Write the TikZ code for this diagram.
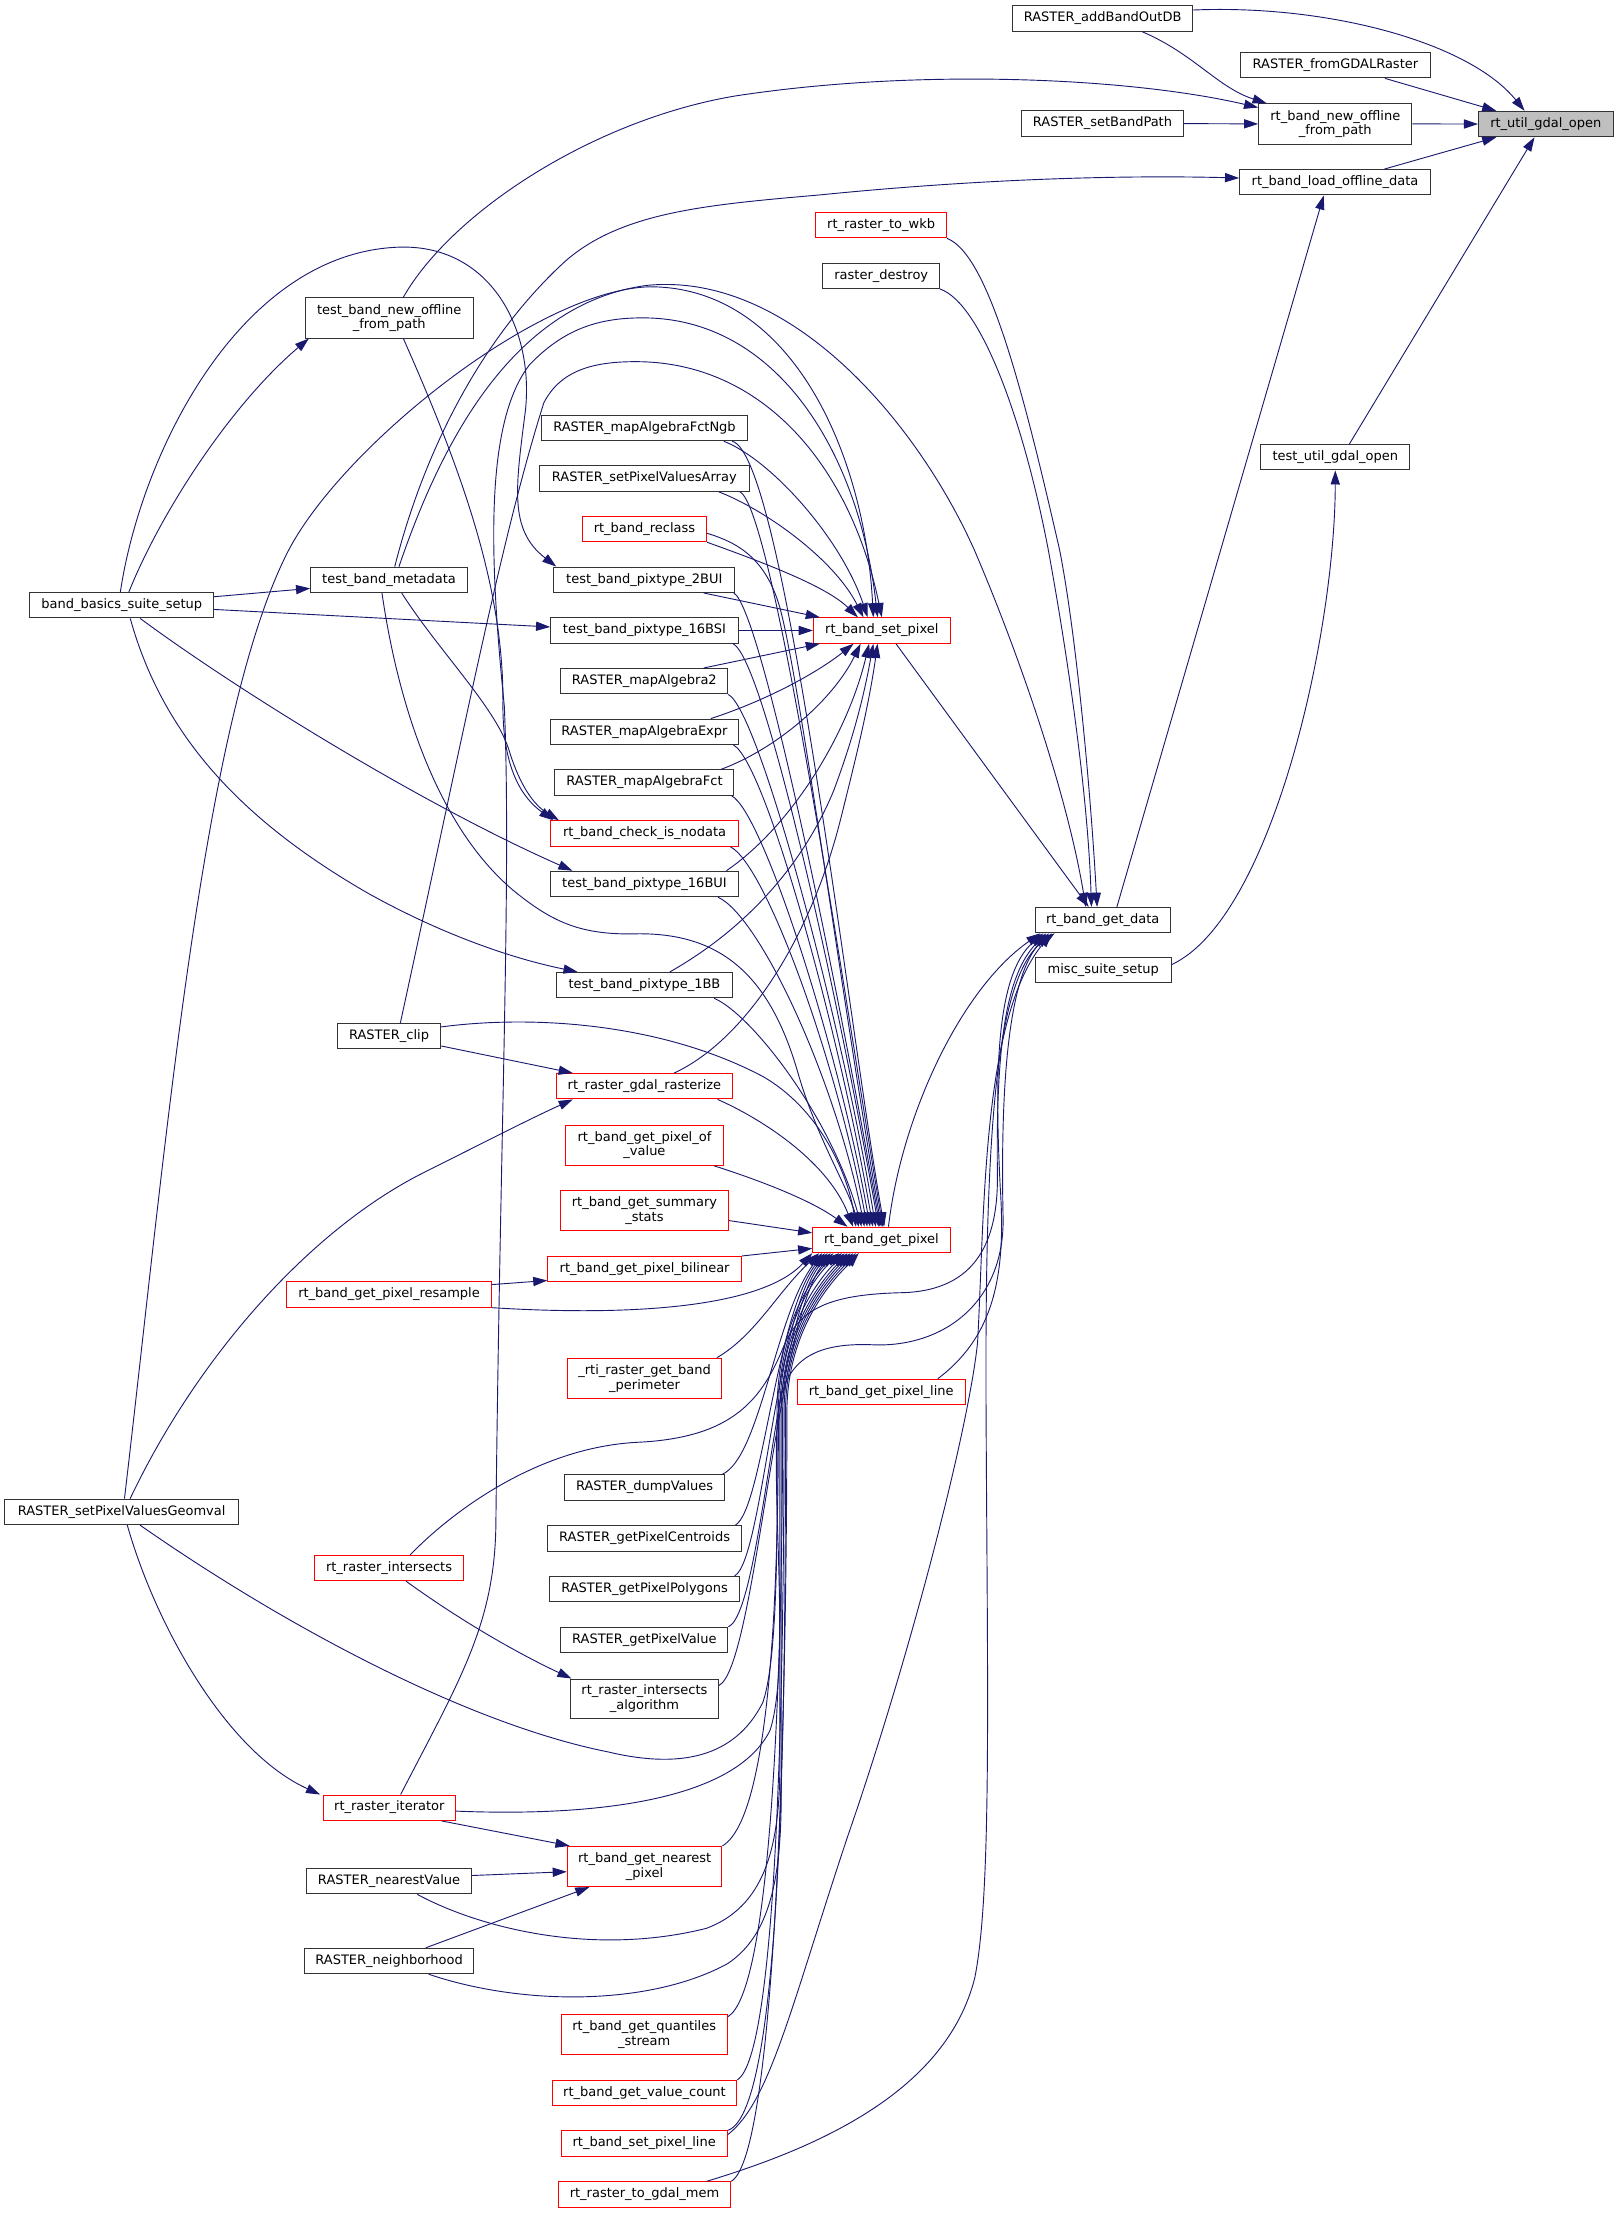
\documentclass[tikz,border=0pt]{standalone}
\usepackage{fontspec}
\setmainfont{DejaVu Sans}
\usetikzlibrary{arrows.meta}
\definecolor{navy}{HTML}{191970}
\definecolor{redb}{HTML}{FF0000}
\definecolor{grayf}{HTML}{BFBFBF}
\definecolor{nborder}{HTML}{333333}
\newcommand\nfs{\fontsize{9.2pt}{10.2pt}\selectfont}
\tikzset{
 nbox/.style={draw=nborder, line width=0.7pt, rectangle, inner sep=0pt, minimum height=18pt, font=\nfs, text height=7pt, text depth=2.4pt},
 rbox/.style={nbox, draw=redb},
 nbox2/.style={draw=nborder, line width=0.7pt, rectangle, inner sep=0pt, minimum height=28.5pt, font=\nfs, align=center},
 rbox2/.style={nbox2, draw=redb},
 edg/.style={draw=navy, line width=0.65pt, -{Triangle[length=10pt,width=6.5pt]}},
}
\begin{document}
\begin{tikzpicture}[x=1pt,y=-1pt]
\fill[white] (0,0) rectangle (1146,1566.5);
\useasboundingbox (0,0) rectangle (1146,1566.5);
% right part
\node[nbox, fill=grayf, minimum width=95.2pt] (util) at (1094.2,87.8) {rt\_util\_gdal\_open};
\node[nbox, minimum width=127pt] (addBand) at (780.5,13.1) {RASTER\_addBandOutDB};
\node[nbox, minimum width=134.5pt] (fromGDAL) at (945.3,46.1) {RASTER\_fromGDALRaster};
\node[nbox2, minimum width=108.5pt] (newOff) at (945.2,87.7) {rt\_band\_new\_offline\\\_from\_path};
\node[nbox, minimum width=114.3pt] (setBandPath) at (780.4,87.5) {RASTER\_setBandPath};
\node[nbox, minimum width=135pt] (loadOff) at (945,129) {rt\_band\_load\_offline\_data};
\node[nbox, minimum width=105.7pt] (testUtil) at (945.2,323.6) {test\_util\_gdal\_open};
\node[rbox, minimum width=92.6pt] (toWkb) at (623.7,159.4) {rt\_raster\_to\_wkb};
\node[nbox, minimum width=82.5pt] (rdestroy) at (623.8,195.2) {raster\_destroy};
\node[nbox, minimum width=95.5pt] (getData) at (780.6,651.3) {rt\_band\_get\_data};
\node[nbox, minimum width=96pt] (misc) at (781,686.8) {misc\_suite\_setup};
\node[rbox, minimum width=97pt] (setPixel) at (624.2,446.3) {rt\_band\_set\_pixel};
\node[rbox, minimum width=97.2pt] (getPixel) at (623.9,877.7) {rt\_band\_get\_pixel};
\node[rbox, minimum width=119.1pt] (getPixelLine) at (623.8,985.3) {rt\_band\_get\_pixel\_line};
% middle column
\node[nbox, minimum width=145.6pt] (fctNgb) at (456.2,303) {RASTER\_mapAlgebraFctNgb};
\node[nbox, minimum width=148.6pt] (spva) at (456.1,338.8) {RASTER\_setPixelValuesArray};
\node[rbox, minimum width=88pt] (reclass) at (456.2,374.5) {rt\_band\_reclass};
\node[nbox, minimum width=128pt] (p2BUI) at (456.1,410.4) {test\_band\_pixtype\_2BUI};
\node[nbox, minimum width=132.8pt] (p16BSI) at (456.2,446.3) {test\_band\_pixtype\_16BSI};
\node[nbox, minimum width=118pt] (ma2) at (456.1,482.2) {RASTER\_mapAlgebra2};
\node[nbox, minimum width=133.3pt] (maExpr) at (456.2,518) {RASTER\_mapAlgebraExpr};
\node[nbox, minimum width=126.7pt] (maFct) at (456.2,554) {RASTER\_mapAlgebraFct};
\node[rbox, minimum width=132.6pt] (nodata) at (456.3,590) {rt\_band\_check\_is\_nodata};
\node[nbox, minimum width=133.3pt] (p16BUI) at (456.2,625.7) {test\_band\_pixtype\_16BUI};
\node[nbox, minimum width=124pt] (p1BB) at (456.2,697.3) {test\_band\_pixtype\_1BB};
\node[rbox, minimum width=124.8pt] (rasterize) at (456.2,768.9) {rt\_raster\_gdal\_rasterize};
\node[rbox2, minimum width=111.6pt] (pofv) at (456.2,810.6) {rt\_band\_get\_pixel\_of\\\_value};
\node[rbox2, minimum width=119.2pt] (sstats) at (456.2,857) {rt\_band\_get\_summary\\\_stats};
\node[rbox, minimum width=137pt] (bilinear) at (456.3,898.4) {rt\_band\_get\_pixel\_bilinear};
\node[rbox2, minimum width=109.5pt] (perim) at (456.3,975.7) {\_rti\_raster\_get\_band\\\_perimeter};
\node[nbox, minimum width=113pt] (dump) at (456.3,1053) {RASTER\_dumpValues};
\node[nbox, minimum width=137.7pt] (centroids) at (456.3,1089) {RASTER\_getPixelCentroids};
\node[nbox, minimum width=134.9pt] (polygons) at (456.3,1124.8) {RASTER\_getPixelPolygons};
\node[nbox, minimum width=118.4pt] (gpv) at (456.1,1160.9) {RASTER\_getPixelValue};
\node[nbox2, minimum width=104.6pt, minimum height=27.6pt] (interAlg) at (456.2,1202.3) {rt\_raster\_intersects\\\_algorithm};
\node[rbox2, minimum width=109.5pt] (nearestPix) at (456.3,1321.2) {rt\_band\_get\_nearest\\\_pixel};
\node[rbox2, minimum width=117.7pt] (quant) at (456,1440.2) {rt\_band\_get\_quantiles\\\_stream};
\node[rbox, minimum width=130.7pt] (vcount) at (456.2,1481.6) {rt\_band\_get\_value\_count};
\node[rbox, minimum width=117.7pt] (spl) at (456,1517.3) {rt\_band\_set\_pixel\_line};
\node[rbox, minimum width=122.2pt] (gdalmem) at (456.2,1553.4) {rt\_raster\_to\_gdal\_mem};
% left-middle column
\node[nbox2, minimum width=119pt] (tnew) at (275.5,225) {test\_band\_new\_offline\\\_from\_path};
\node[nbox, minimum width=111pt] (tmeta) at (275.4,410.5) {test\_band\_metadata};
\node[nbox, minimum width=73.2pt] (clip) at (275.4,733.4) {RASTER\_clip};
\node[rbox, minimum width=145pt] (resample) at (275.4,916.3) {rt\_band\_get\_pixel\_resample};
\node[rbox, minimum width=105pt] (inter) at (275.4,1109.9) {rt\_raster\_intersects};
\node[rbox, minimum width=93.3pt] (iter) at (275.6,1279.6) {rt\_raster\_iterator};
\node[nbox, minimum width=116.8pt] (nearestVal) at (275.4,1331.6) {RASTER\_nearestValue};
\node[nbox, minimum width=119.8pt] (neigh) at (275.4,1388.1) {RASTER\_neighborhood};
% left column
\node[nbox, minimum width=130pt] (bbss) at (86.2,428.4) {band\_basics\_suite\_setup};
\node[nbox, minimum width=165.2pt] (geom) at (86.1,1070.2) {RASTER\_setPixelValuesGeomval};

% ---- edges into rt_util_gdal_open
\draw[edg] ([yshift=6pt]addBand.east) .. controls (940,3) and (1040,30) .. ([xshift=-15pt]util.north);
\draw[edg] ([xshift=35pt]fromGDAL.south) -- ([xshift=-35pt]util.north);
\draw[edg] (newOff.east) -- (util.west);
\draw[edg] ([xshift=35pt]loadOff.north) -- ([xshift=-35pt]util.south);
\draw[edg] ([xshift=10pt]testUtil.north) -- ([xshift=-8pt]util.south);
% ---- into rt_band_new_offline_from_path
\draw[edg] ([xshift=28pt]addBand.south) .. controls (845,38) and (862,62) .. ([xshift=6pt]newOff.north west);
\draw[edg] (setBandPath.east) -- (newOff.west);
\draw[edg] ([xshift=10pt]tnew.north) .. controls (320,150) and (420,85) .. (520,68) .. controls (650,48) and (800,55) .. ([yshift=-3pt]newOff.north west);
% ---- into rt_band_load_offline_data
\draw[edg] ([xshift=4pt]tmeta.north) .. controls (300,320) and (340,240) .. (400,185) .. controls (440,150) and (500,145) .. (580,138) .. controls (700,126) and (800,124) .. ([yshift=3pt]loadOff.west);
\draw[edg] ([xshift=10pt]getData.north) -- ([xshift=-8pt]loadOff.south);
% ---- into test_util_gdal_open
\draw[edg] ([yshift=4pt]misc.east) .. controls (900,650) and (945,450) .. (testUtil.south);
% ---- from band_basics_suite_setup
\draw[edg] ([xshift=5pt]bbss.north) .. controls (115,360) and (165,285) .. ([xshift=3pt]tnew.south west);
\draw[edg] ([yshift=6pt]bbss.east) -- ([yshift=-6pt]tmeta.west);
\draw[edg] ([yshift=-3pt]bbss.east) -- ([yshift=2.5pt]p16BSI.west);
\draw[edg] ([xshift=-1pt]bbss.north) .. controls (100,320) and (170,180) .. (281,175) .. controls (345,172) and (378,230) .. (372,290) .. controls (365,345) and (360,375) .. ([xshift=2pt]p2BUI.north west);
\draw[edg] ([xshift=13pt]bbss.south) .. controls (170,490) and (300,570) .. ([xshift=16pt]p16BUI.north west);
\draw[edg] ([xshift=6pt]bbss.south) .. controls (115,520) and (170,580) .. (260,632) .. controls (310,660) and (360,678) .. ([xshift=15pt]p1BB.north west);
% ---- into rt_band_check_is_nodata
\draw[edg] ([xshift=10pt]tnew.south) .. controls (330,340) and (357,420) .. (356,500) .. controls (356,545) and (370,565) .. ([xshift=2pt]nodata.north west);
\draw[edg] ([xshift=9pt]tmeta.south) .. controls (310,460) and (350,500) .. (360,530) .. controls (366,550) and (375,568) .. ([xshift=6pt]nodata.north west);
% ---- test_band_metadata to get_pixel / get_data
\draw[edg] ([xshift=-5pt]tmeta.south) .. controls (282,500) and (310,585) .. (363,630) .. controls (390,652) and (410,662) .. (450,661) .. controls (510,660) and (545,690) .. (565,760) .. controls (578,805) and (600,840) .. ([xshift=-16pt]getPixel.north);
\draw[edg] ([xshift=7pt]tmeta.north) .. controls (310,320) and (360,215) .. (458,202) .. controls (560,192) and (650,300) .. (690,390) .. controls (720,460) and (755,560) .. ([xshift=-12pt]getData.north);
% ---- big arcs into rt_band_set_pixel
\draw[edg] ([xshift=2pt]geom.north) .. controls (117.5,811) and (143,512) .. (203,392) .. controls (240,318) and (380,205) .. (460,203) .. controls (560,203) and (612,320) .. ([xshift=-6pt]setPixel.north);
\draw[edg] ([xshift=8pt]iter.north) .. controls (325,1190) and (350,1150) .. (351,1080) .. controls (354,800) and (362,620) .. (357,500) .. controls (347,400) and (342,300) .. (375,258) .. controls (400,232) and (425,225) .. (455,225) .. controls (550,225) and (608,320) .. ([xshift=-3pt]setPixel.north);
\draw[edg] ([xshift=8pt]clip.north) .. controls (330,510) and (355,380) .. (385,285) .. controls (397,262) and (420,256) .. (450,256) .. controls (540,256) and (602,330) .. (setPixel.north);
% ---- other edges into rt_band_set_pixel
\draw[edg] ([xshift=-17pt]fctNgb.south east) .. controls (545,325) and (595,380) .. ([xshift=-10pt]setPixel.north);
\draw[edg] ([xshift=-22pt]spva.south east) .. controls (540,360) and (590,395) .. ([xshift=-13pt]setPixel.north);
\draw[edg] (reclass.south east) .. controls (540,398) and (585,415) .. ([xshift=-17pt]setPixel.north);
\draw[edg] ([xshift=42pt]p2BUI.south) -- ([xshift=5pt]setPixel.north west);
\draw[edg] (p16BSI.east) -- (setPixel.west);
\draw[edg] ([xshift=42pt]ma2.north) -- ([xshift=5pt]setPixel.south west);
\draw[edg] ([xshift=47pt]maExpr.north) .. controls (545,495) and (580,475) .. ([xshift=-20pt]setPixel.south);
\draw[edg] ([xshift=54pt]maFct.north) .. controls (550,530) and (590,495) .. ([xshift=-15pt]setPixel.south);
\draw[edg] ([xshift=58pt]p16BUI.north) .. controls (560,585) and (600,520) .. ([xshift=-9pt]setPixel.south);
\draw[edg] ([xshift=18pt]p1BB.north) .. controls (520,662) and (565,620) .. (590,560) .. controls (605,520) and (612,490) .. ([xshift=-6pt]setPixel.south);
\draw[edg] ([xshift=21pt]rasterize.north) .. controls (530,735) and (575,660) .. (595,580) .. controls (605,540) and (615,500) .. ([xshift=-3pt]setPixel.south);
% ---- into rt_band_get_data from above
\draw[edg] ([xshift=10pt]setPixel.south) -- ([xshift=-10pt]getData.north);
\draw[edg] (toWkb.south east) .. controls (700,180) and (725,280) .. (750,389) .. controls (762,450) and (772,560) .. ([xshift=-4pt]getData.north);
\draw[edg] (rdestroy.south east) .. controls (695,215) and (725,300) .. (742,389) .. controls (755,460) and (770,560) .. ([xshift=-8pt]getData.north);
% ---- into rt_band_get_data from below
\draw[edg] ([xshift=5pt]getPixel.north) .. controls (638,790) and (680,700) .. ([xshift=4pt]getData.south west);
\draw[edg] ([xshift=40pt]getPixelLine.north) .. controls (705,945) and (712,900) .. (708,840) .. controls (704,760) and (705,690) .. ([xshift=6pt]getData.south west);
\draw[edg] ([xshift=15pt]inter.north) .. controls (320,1070) and (380,1025) .. (450,1021) .. controls (520,1018) and (540,990) .. (556,950) .. controls (568,925) and (590,916) .. (640,915) .. controls (690,913) and (707,880) .. (706,830) .. controls (705,740) and (712,690) .. ([xshift=8pt]getData.south west);
\draw[edg] ([yshift=-2.4pt]iter.east) .. controls (420,1286) and (520,1275) .. (545,1225) .. controls (560,1180) and (545,1050) .. (551,1000) .. controls (555,960) and (580,950) .. (620,952) .. controls (670,953) and (712,920) .. (710,860) .. controls (708,760) and (715,690) .. ([xshift=10pt]getData.south west);
\draw[edg] ([yshift=-3pt]spl.north east) .. controls (545,1488) and (560,1420) .. (600,1300) .. controls (645,1170) and (686,1010) .. (692,950) .. controls (697,860) and (695,720) .. ([xshift=12pt]getData.south west);
\draw[edg] ([xshift=44pt]gdalmem.north) .. controls (580,1520) and (670,1480) .. (690,1400) .. controls (702,1340) and (699,1200) .. (698,1000) .. controls (697,800) and (705,690) .. ([xshift=14pt]getData.south west);
% ---- into rt_band_get_pixel from the middle column above
\draw[edg] ([xshift=-11pt]fctNgb.south east) .. controls (555,322) and (600,720) .. ([xshift=2pt]getPixel.north);
\draw[edg] ([xshift=-7pt]spva.south east) .. controls (548,360) and (600,720) .. ([xshift=1pt]getPixel.north);
\draw[edg] ([yshift=-3pt]reclass.east) .. controls (522,384) and (542,395) .. (552,430) .. controls (566,480) and (598,720) .. (getPixel.north);
\draw[edg] ([xshift=-1pt]p2BUI.south east) .. controls (540,432) and (597,720) .. ([xshift=-1pt]getPixel.north);
\draw[edg] ([xshift=-4pt]p16BSI.south east) .. controls (542,468) and (596,720) .. ([xshift=-2pt]getPixel.north);
\draw[edg] (ma2.south east) .. controls (537,502) and (595,720) .. ([xshift=-4pt]getPixel.north);
\draw[edg] ([xshift=-4pt]maExpr.south east) .. controls (542,540) and (594,730) .. ([xshift=-6pt]getPixel.north);
\draw[edg] ([xshift=-2pt]maFct.south east) .. controls (540,575) and (593,740) .. ([xshift=-8pt]getPixel.north);
\draw[edg] ([xshift=-6pt]nodata.south east) .. controls (542,612) and (592,750) .. ([xshift=-10pt]getPixel.north);
\draw[edg] ([xshift=-15pt]p16BUI.south east) .. controls (537,648) and (590,760) .. ([xshift=-12pt]getPixel.north);
\draw[edg] ([xshift=-13pt]p1BB.south east) .. controls (532,718) and (588,790) .. ([xshift=-14pt]getPixel.north);
\draw[edg] ([xshift=-11pt]rasterize.south east) .. controls (535,790) and (585,820) .. ([xshift=-20pt]getPixel.north);
\draw[edg] ([yshift=6.5pt]clip.east) .. controls (380,718) and (470,725) .. (540,762) .. controls (580,785) and (600,830) .. ([xshift=-18pt]getPixel.north);
\draw[edg] ([xshift=-7pt]pofv.south east) .. controls (530,833) and (572,848) .. ([xshift=-24pt]getPixel.north);
\draw[edg] ([yshift=-7pt]sstats.east) -- ([yshift=5pt]getPixel.west);
\draw[edg] (bilinear.north east) -- ([yshift=-6pt]getPixel.west);
\draw[edg] (resample.south east) .. controls (450,932) and (540,925) .. (getPixel.south west);
\draw[edg] ([yshift=7pt]resample.east) -- ([yshift=-8pt]bilinear.west);
% ---- rasterize, iterator, intersects
\draw[edg] ([yshift=-7pt]clip.east) -- ([xshift=12pt]rasterize.north west);
\draw[edg] ([xshift=6pt]geom.north) .. controls (140,960) and (220,870) .. (300,830) .. controls (340,810) and (375,792) .. ([xshift=12pt]rasterize.south west);
\draw[edg] ([xshift=4pt]geom.south) .. controls (110,1150) and (160,1240) .. ([xshift=-2pt]iter.north west);
\draw[edg] ([xshift=13pt]geom.south) .. controls (200,1150) and (330,1220) .. (430,1240) .. controls (480,1252) and (520,1245) .. (540,1205) .. controls (552,1170) and (550,1060) .. (550,1000) .. controls (550,935) and (578,900) .. ([xshift=-30pt]getPixel.south);
\draw[edg] ([xshift=12pt]inter.south) .. controls (330,1150) and (370,1172) .. ([xshift=1pt]interAlg.north west);
\draw[edg] ([xshift=-10pt]iter.south east) -- ([xshift=2pt]nearestPix.north west);
\draw[edg] ([yshift=4pt]nearestVal.east) -- ([yshift=-3.7pt]nearestPix.west);
\draw[edg] ([xshift=26pt]neigh.north) -- ([xshift=16pt]nearestPix.south west);
% ---- into rt_band_get_pixel from below
\draw[edg] ([xshift=-4pt]perim.north east) .. controls (535,945) and (550,915) .. ([xshift=-44pt]getPixel.south);
\draw[edg] ([xshift=-2pt]dump.north east) .. controls (538,1032) and (549,930) .. ([xshift=-42pt]getPixel.south);
\draw[edg] ([xshift=-5pt]centroids.north east) .. controls (540,1068) and (549,930) .. ([xshift=-40pt]getPixel.south);
\draw[edg] ([xshift=-4pt]polygons.north east) .. controls (540,1104) and (549,930) .. ([xshift=-38pt]getPixel.south);
\draw[edg] (gpv.north east) .. controls (540,1140) and (549,930) .. ([xshift=-36pt]getPixel.south);
\draw[edg] ([yshift=-5pt]interAlg.north east) .. controls (535,1180) and (550,930) .. ([xshift=-34pt]getPixel.south);
\draw[edg] (nearestPix.north east) .. controls (548,1285) and (551,1100) .. (551,1000) .. controls (551,935) and (580,900) .. ([xshift=-28pt]getPixel.south);
\draw[edg] ([xshift=20pt]nearestVal.south) .. controls (340,1365) and (420,1385) .. (500,1365) .. controls (540,1350) and (552,1310) .. (552,1250) .. controls (552,1150) and (552,1060) .. (552,1000) .. controls (552,935) and (585,900) .. ([xshift=-26pt]getPixel.south);
\draw[edg] ([xshift=28pt]neigh.south) .. controls (370,1420) and (460,1420) .. (515,1390) .. controls (545,1370) and (553,1330) .. (553,1270) .. controls (553,1150) and (553,1060) .. (553,1000) .. controls (553,935) and (588,900) .. ([xshift=-24pt]getPixel.south);
\draw[edg] ([yshift=-2pt]quant.north east) .. controls (545,1410) and (554,1200) .. (554,1000) .. controls (554,935) and (590,900) .. ([xshift=-22pt]getPixel.south);
\draw[edg] (vcount.north east) .. controls (550,1455) and (555,1200) .. (555,1000) .. controls (555,935) and (592,900) .. ([xshift=-20pt]getPixel.south);
\draw[edg] (spl.north east) .. controls (555,1495) and (556,1200) .. (556,1000) .. controls (556,935) and (594,900) .. ([xshift=-18pt]getPixel.south);
\draw[edg] (gdalmem.north east) .. controls (550,1525) and (557,1200) .. (557,1000) .. controls (557,935) and (596,900) .. ([xshift=-16pt]getPixel.south);
\end{tikzpicture}
\end{document}
